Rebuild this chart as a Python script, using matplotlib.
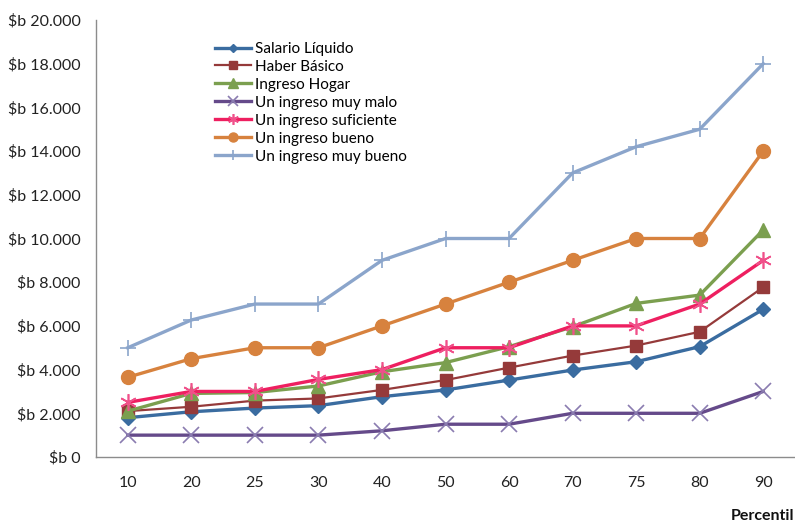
import matplotlib
matplotlib.use("Agg")
import matplotlib.pyplot as plt
from matplotlib.ticker import FuncFormatter

plt.rcParams['font.family'] = ['Lato', 'DejaVu Sans']

percentiles = ["10", "20", "25", "30", "40", "50", "60", "70", "75", "80", "90"]

salario_liquido = [1800, 2070, 2240, 2350, 2760, 3070, 3520, 3980, 4360, 5050, 6760]
haber_basico = [2100, 2300, 2580, 2680, 3070, 3520, 4090, 4640, 5100, 5730, 7770]
ingreso_hogar = [2100, 2910, 2950, 3250, 3900, 4320, 5050, 5960, 7030, 7410, 10390]
muy_malo = [1000, 1000, 1000, 1000, 1200, 1500, 1500, 2000, 2000, 2000, 3000]
suficiente = [2500, 3000, 3000, 3550, 4000, 5000, 5000, 6000, 6000, 7000, 9000]
bueno = [3650, 4500, 5000, 5000, 6000, 7000, 8000, 9000, 10000, 10000, 14000]
muy_bueno = [5000, 6270, 7000, 7000, 9000, 10000, 10000, 13000, 14200, 15000, 18000]

series = [
    ("Salario Líquido", salario_liquido, dict(color="#3A6CA0", lw=2.4, marker="D", ms=7, mfc="#3A6CA0", mec="#3A6CA0")),
    ("Haber Básico", haber_basico, dict(color="#953A3A", lw=1.6, marker="s", ms=9, mfc="#953A3A", mec="#953A3A")),
    ("Ingreso Hogar", ingreso_hogar, dict(color="#7B9F4F", lw=2.4, marker="^", ms=10, mfc="#7B9F4F", mec="#7B9F4F")),
    ("Un ingreso muy malo", muy_malo, dict(color="#654A8A", lw=2.4, marker="x", ms=11, mfc="#8A7CB0", mec="#8A7CB0", mew=1.2)),
    ("Un ingreso suficiente", suficiente, dict(color="#EE1F60", lw=2.4, marker=(6, 2, 0), ms=12, mfc="#F0508A", mec="#F0508A", mew=1.2)),
    ("Un ingreso bueno", bueno, dict(color="#D7823E", lw=2.4, marker="o", ms=10, mfc="#D7823E", mec="#D7823E")),
    ("Un ingreso muy bueno", muy_bueno, dict(color="#8BA5CB", lw=2.4, marker="+", ms=12, mfc="#8BA5CB", mec="#8BA5CB", mew=1.2)),
]

fig = plt.figure(figsize=(7.95, 5.22), dpi=100)
ax = fig.add_axes([96 / 795, 65 / 522, 699 / 795, 437 / 522])

x = list(range(len(percentiles)))
for name, vals, style in series:
    ax.plot(x, vals, label=name, **style)

ax.set_xlim(-0.5, len(percentiles) - 0.5)
ax.set_ylim(0, 20000)
ax.set_yticks(range(0, 20001, 2000))
ax.yaxis.set_major_formatter(FuncFormatter(lambda v, p: "$b " + (f"{int(v):,}".replace(",", ".") if v else "0")))
ax.set_xticks(x)
ax.set_xticklabels(percentiles)

for s in ("top", "right"):
    ax.spines[s].set_visible(False)
for s in ("left", "bottom"):
    ax.spines[s].set_color("#8C8C8C")
    ax.spines[s].set_linewidth(1.0)
ax.tick_params(axis="y", length=0, labelsize=11.5, pad=11, labelcolor="#222222")
ax.tick_params(axis="x", length=0, labelsize=11.5, pad=14, labelcolor="#222222")

leg = ax.legend(loc="upper left", bbox_to_anchor=(0.170, 0.950), frameon=False,
                fontsize=11, handlelength=2.4, handletextpad=0.2, labelspacing=0.26,
                borderaxespad=0, borderpad=0, markerscale=0.65)

fig.text(0.999, 2 / 522, "Percentil", ha="right", va="baseline", fontsize=11.5,
         fontweight="bold", color="#111111")

fig.savefig("out.png", dpi=100)
